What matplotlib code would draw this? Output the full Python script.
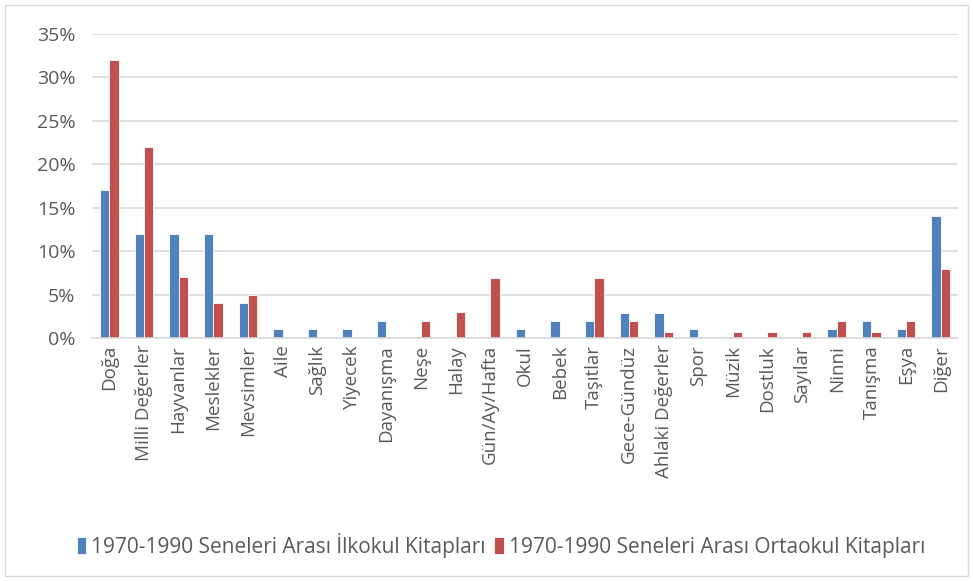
import numpy as np
import matplotlib.pyplot as plt
from matplotlib.ticker import PercentFormatter

CATEGORIES = ["Doğa", "Milli Değerler", "Hayvanlar", "Meslekler", "Mevsimler", "Aile",
              "Sağlık", "Yiyecek", "Dayanışma", "Neşe", "Halay", "Gün/Ay/Hafta", "Okul",
              "Bebek", "Taşıtlar", "Gece-Gündüz", "Ahlaki Değerler", "Spor", "Müzik",
              "Dostluk", "Sayılar", "Ninni", "Tanışma", "Eşya", "Diğer"]
ILKOKUL = [17, 12, 12, 12, 4, 1, 1, 1, 2, 0, 0, 0, 1, 1.9, 1.9, 2.9, 2.9, 1, 0, 0, 0, 1, 1.9, 1, 14]
ORTAOKUL = [32, 22, 7, 4, 5, 0, 0, 0, 0, 2, 3, 6.9, 0, 0, 6.9, 1.9, 0.7, 0, 0.7, 0.7, 0.7, 1.9, 0.7, 1.9, 7.9]
LABELS = ["1970-1990 Seneleri Arası İlkokul Kitapları", "1970-1990 Seneleri Arası Ortaokul Kitapları"]

BLUE = "#4f81bd"
RED = "#c0504d"
GRAY = "#595959"

plt.rcParams['font.family'] = ['Open Sans', 'DejaVu Sans']

fig = plt.figure(figsize=(9.73, 5.81), dpi=100)
ax = fig.add_axes([92 / 973, 1 - 338 / 581, (958 - 92) / 973, (338 - 34) / 581])

x = np.arange(len(CATEGORIES))
w = 0.27
ax.bar(x - w / 2, ILKOKUL, w, color=BLUE, edgecolor="white", linewidth=0.6, label=LABELS[0])
ax.bar(x + w / 2, ORTAOKUL, w, color=RED, edgecolor="white", linewidth=0.6, label=LABELS[1])

ax.set_xlim(-0.5, len(CATEGORIES) - 0.5)
ax.set_ylim(0, 35)
ax.set_yticks(np.arange(0, 36, 5))
ax.yaxis.set_major_formatter(PercentFormatter(decimals=0))
ax.set_xticks(x)
ax.set_xticklabels(CATEGORIES, rotation=90, fontsize=13.5, color=GRAY)
ax.tick_params(axis="y", labelsize=14, labelcolor=GRAY, length=0, pad=12)
ax.tick_params(axis="x", length=0, pad=5)
ax.grid(axis="y", color="#d9d9d9", linewidth=1.2)
ax.set_axisbelow(True)
for s in ["top", "right", "left"]:
    ax.spines[s].set_visible(False)
ax.spines["bottom"].set_color("#d9d9d9")
ax.spines["bottom"].set_linewidth(1.2)

fig.legend(loc="center", bbox_to_anchor=(0.515, 1 - 545 / 581), ncol=2, frameon=False,
           fontsize=15, labelcolor=GRAY, handlelength=0.45, handleheight=0.9,
           handletextpad=0.25, columnspacing=0.4)

border = plt.Rectangle((5 / 973, 5 / 581), 963 / 973, 571 / 581, transform=fig.transFigure,
                       fill=False, edgecolor="#d9d9d9", linewidth=1)
fig.patches.append(border)

fig.savefig("out.png", dpi=100)
